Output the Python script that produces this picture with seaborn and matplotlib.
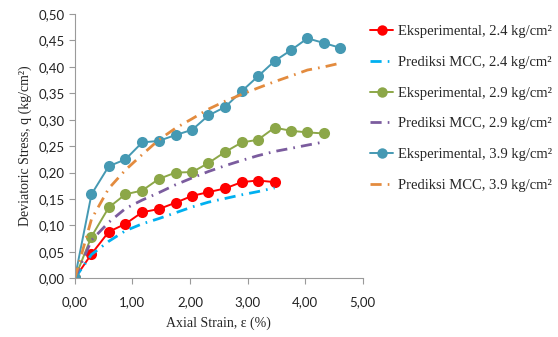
import numpy as np
import pandas as pd
import matplotlib
matplotlib.use("Agg")
import matplotlib.pyplot as plt
import seaborn as sns

# strain (%) at each reading
strain = [0.00, 0.29, 0.59, 0.88, 1.17, 1.46, 1.75, 2.04, 2.32, 2.61,
          2.90, 3.18, 3.47, 3.76, 4.04, 4.33, 4.61]

# experimental deviatoric stress (kg/cm2)
exp_24 = [0.000, 0.046, 0.088, 0.103, 0.125, 0.131, 0.143, 0.156, 0.163, 0.170,
          0.182, 0.185, 0.182]
exp_29 = [0.000, 0.079, 0.134, 0.159, 0.166, 0.188, 0.200, 0.201, 0.218, 0.239,
          0.257, 0.262, 0.285, 0.279, 0.276, 0.274]
exp_39 = [0.000, 0.159, 0.212, 0.225, 0.257, 0.260, 0.271, 0.281, 0.308, 0.324,
          0.354, 0.382, 0.411, 0.432, 0.454, 0.445, 0.436]

# MCC prediction
mcc_24 = [0.000, 0.045, 0.070, 0.090, 0.103, 0.113, 0.124, 0.135, 0.144, 0.151,
          0.158, 0.164, 0.171]
mcc_29 = [0.000, 0.072, 0.106, 0.132, 0.148, 0.162, 0.177, 0.190, 0.202, 0.213,
          0.223, 0.232, 0.240, 0.246, 0.252, 0.258]
mcc_39 = [0.000, 0.112, 0.170, 0.205, 0.234, 0.262, 0.284, 0.302, 0.320, 0.335,
          0.348, 0.360, 0.372, 0.383, 0.394, 0.400, 0.407]

series = [
    ("Eksperimental, 2.4 kg/cm\u00b2", exp_24, "#FF0000", True),
    ("Prediksi MCC, 2.4 kg/cm\u00b2", mcc_24, "#00B0F0", False),
    ("Eksperimental, 2.9 kg/cm\u00b2", exp_29, "#8CA748", True),
    ("Prediksi MCC, 2.9 kg/cm\u00b2", mcc_29, "#7B5C9E", False),
    ("Eksperimental, 3.9 kg/cm\u00b2", exp_39, "#4599B3", True),
    ("Prediksi MCC, 3.9 kg/cm\u00b2", mcc_39, "#E38B3E", False),
]

sns.set_style("white")
serif = ["Liberation Serif", "DejaVu Serif"]
tick_font = "Lato"

fig = plt.figure(figsize=(5.58, 3.37), dpi=100)
ax = fig.add_axes([74.8 / 558, 1 - 278.3 / 337, (362.7 - 74.8) / 558, (278.3 - 14) / 337])

for name, vals, color, experimental in series:
    df = pd.DataFrame({"x": strain[:len(vals)], "y": vals})
    if experimental:
        sns.lineplot(data=df, x="x", y="y", ax=ax, color=color, lw=1.4,
                     marker="o", markersize=8, markeredgewidth=0,
                     sort=False, estimator=None, label=name)
    else:
        sns.lineplot(data=df, x="x", y="y", ax=ax, color=color, lw=2.0,
                     sort=False, estimator=None, label=name)
        ax.lines[-1].set_dashes((4, 2.2, 0.6, 2.2))

ax.set_xlim(0, 5)
ax.set_ylim(0, 0.5)
ax.set_xticks(np.arange(0, 5.01, 1.0))
ax.set_yticks(np.arange(0, 0.501, 0.05))
ax.set_xticklabels([f"{v:.2f}".replace(".", ",") for v in np.arange(0, 5.01, 1.0)],
                   fontname=tick_font, fontsize=9.5, color="#222222")
ax.set_yticklabels([f"{v:.2f}".replace(".", ",") for v in np.arange(0, 0.501, 0.05)],
                   fontname=tick_font, fontsize=9.5, color="#222222")
ax.tick_params(axis="both", direction="out", length=4, width=0.8, color="#9a9a9a",
               bottom=True, left=True, pad=3)
ax.tick_params(axis="x", pad=9)

for s in ["top", "right"]:
    ax.spines[s].set_visible(False)
for s in ["left", "bottom"]:
    ax.spines[s].set_color("#9a9a9a")
    ax.spines[s].set_linewidth(0.8)

ax.set_xlabel("Axial Strain, \u03b5 (%)", family=serif, fontsize=10, labelpad=6)
ax.set_ylabel("Deviatoric Stress, q (kg/cm\u00b2)", family=serif, fontsize=10, labelpad=5)

ax.legend(loc="upper left", bbox_to_anchor=(370 / 558, 1 - 25 / 337),
          bbox_transform=fig.transFigure, frameon=False,
          prop={"family": serif, "size": 10.5}, handlelength=1.6,
          handletextpad=0.35, labelspacing=1.2, borderpad=0, borderaxespad=0)
for h in ax.get_legend().legend_handles:
    h.set_markersize(7.5)

fig.savefig("out.png", dpi=100)
